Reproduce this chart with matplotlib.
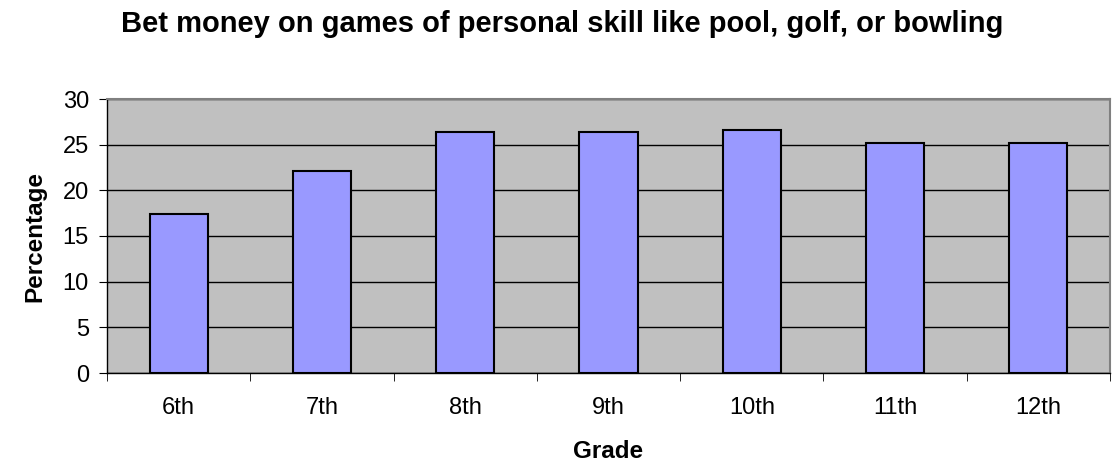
import matplotlib
matplotlib.use('Agg')
import matplotlib.pyplot as plt

plt.rcParams['font.family'] = ['Liberation Sans', 'DejaVu Sans']

grades = ['6th', '7th', '8th', '9th', '10th', '11th', '12th']
percentages = [17.4, 22.1, 26.4, 26.4, 26.6, 25.2, 25.2]

W, H = 1117, 467
fig = plt.figure(figsize=(W / 100, H / 100), dpi=100)
ax = fig.add_axes([107 / W, 1 - 373 / H, (1110 - 107) / W, (373 - 99) / H])

x = range(len(grades))
ax.set_facecolor('#C0C0C0')
ax.bar(x, percentages, width=0.405, color='#9999FF', edgecolor='black', linewidth=1.5, zorder=3)

ax.set_xlim(-0.5, len(grades) - 0.5)
ax.set_ylim(0, 30)
ax.set_yticks(range(0, 31, 5))
ax.set_xticks(x)
ax.set_xticklabels(grades)
ax.set_xticks([i - 0.5 for i in range(len(grades) + 1)], minor=True)
ax.tick_params(axis='x', which='major', length=0, pad=17, labelsize=17)
ax.tick_params(axis='x', which='minor', length=6, direction='out', color='black')
ax.tick_params(axis='y', length=6, direction='out', labelsize=17, pad=7)

ax.grid(axis='y', color='black', linewidth=1, zorder=1)
ax.set_axisbelow(True)
for s in ['top', 'right']:
    ax.spines[s].set_color('#808080')
    ax.spines[s].set_linewidth(1.5)
for s in ['left', 'bottom']:
    ax.spines[s].set_color('black')
    ax.spines[s].set_linewidth(1)

ax.set_xlabel('Grade', fontsize=17.5, fontweight='bold', va='center')
ax.xaxis.set_label_coords(0.5, (373 - 451) / 274)
ax.set_ylabel('Percentage', fontsize=17.5, fontweight='bold', va='center')
ax.yaxis.set_label_coords((35 - 107) / 1003, 0.5)

fig.text(562 / W, 1 - 32 / H, 'Bet money on games of personal skill like pool, golf, or bowling',
         ha='center', va='baseline', fontsize=21, fontweight='bold')

fig.savefig('out.png', dpi=100)
